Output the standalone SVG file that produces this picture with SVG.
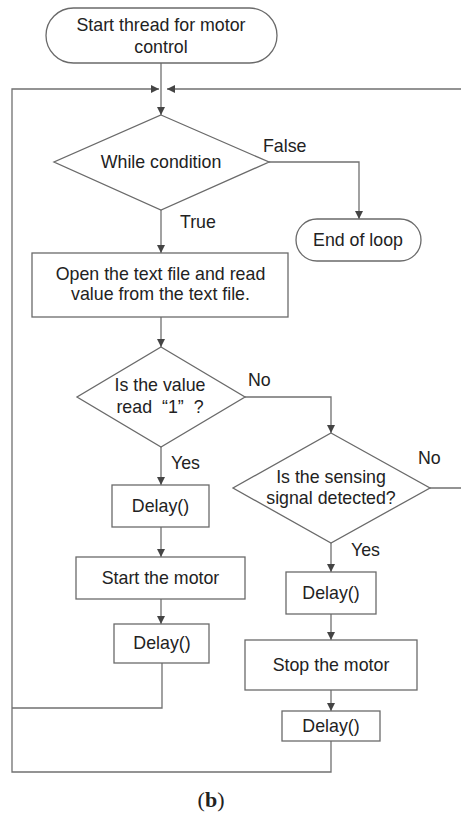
<svg xmlns="http://www.w3.org/2000/svg" width="461" height="815" viewBox="0 0 461 815">
  <style>
    .shape { fill: #fff; stroke: #6a6a6a; stroke-width: 1.3; }
    .wire { fill: none; stroke: #707070; stroke-width: 1.3; }
    .arr { marker-end: url(#head); }
    text { font-family: "Liberation Sans", Arial, sans-serif; font-size: 17.8px; fill: #222; }
    .c { text-anchor: middle; }
  </style>
  <defs>
    <marker id="head" viewBox="0 0 10 10" refX="10" refY="5" markerWidth="8" markerHeight="8" markerUnits="userSpaceOnUse" orient="auto">
      <path d="M0,0 L10,5 L0,10 Z" fill="#444"/>
    </marker>
  </defs>

  <!-- connectors -->
  <g id="connectors">
    <path class="wire arr" d="M161,63 V115"/>
    <path class="wire arr" d="M12,708 V89 H159"/>
    <path class="wire arr" d="M430,488 H470 V89 H167"/>
    <path class="wire arr" d="M269,162 H359 V219"/>
    <path class="wire arr" d="M161,210 V253"/>
    <path class="wire arr" d="M161,317 V347"/>
    <path class="wire arr" d="M245,397 H331 V433"/>
    <path class="wire arr" d="M161,447 V485"/>
    <path class="wire arr" d="M161,527 V557"/>
    <path class="wire arr" d="M161,599 V624"/>
    <path class="wire" d="M162,663 V708 H12"/>
    <path class="wire arr" d="M331,543 V572"/>
    <path class="wire arr" d="M331,614 V640"/>
    <path class="wire arr" d="M331,690 V711"/>
    <path class="wire" d="M331,741 V772 H12 V708"/>
    <text x="263" y="152">False</text>
    <text x="180" y="228">True</text>
    <text x="248" y="386">No</text>
    <text x="418" y="464">No</text>
    <text x="171" y="469">Yes</text>
    <text x="351" y="556">Yes</text>
  </g>

  <g id="start">
    <rect class="shape" x="46" y="8" width="231" height="55" rx="27.5" ry="27.5"/>
    <text class="c" x="161" y="31">Start thread for motor</text>
    <text class="c" x="161" y="53">control</text>
  </g>

  <g id="while">
    <polygon class="shape" points="161,115 269,162 161,210 54,162"/>
    <text class="c" x="161" y="168">While condition</text>
  </g>

  <g id="end">
    <rect class="shape" x="296" y="219" width="125" height="42" rx="21" ry="21"/>
    <text class="c" x="358" y="246">End of loop</text>
  </g>

  <g id="read-file">
    <rect class="shape" x="32" y="253" width="256" height="64"/>
    <text class="c" x="160.5" y="280">Open the text file and read</text>
    <text class="c" x="160.5" y="300">value from the text file.</text>
  </g>

  <g id="check-value">
    <polygon class="shape" points="161,347 245,397 161,447 77,397"/>
    <text class="c" x="160" y="391">Is the value</text>
    <text class="c" x="160" y="413">read <tspan dx="5">“1”</tspan> <tspan dx="5">?</tspan></text>
  </g>

  <g id="check-sensor">
    <polygon class="shape" points="331,433 430,488 331,543 233,488"/>
    <text class="c" x="331" y="483">Is the sensing</text>
    <text class="c" x="331" y="504">signal detected?</text>
  </g>

  <g id="delay-1">
    <rect class="shape" x="112" y="485" width="97" height="42"/>
    <text class="c" x="160.5" y="512">Delay()</text>
  </g>

  <g id="start-motor">
    <rect class="shape" x="76" y="557" width="169" height="42"/>
    <text class="c" x="160.5" y="584">Start the motor</text>
  </g>

  <g id="delay-2">
    <rect class="shape" x="114" y="624" width="95" height="39"/>
    <text class="c" x="162" y="649">Delay()</text>
  </g>

  <g id="delay-3">
    <rect class="shape" x="286" y="572" width="90" height="42"/>
    <text class="c" x="331" y="599">Delay()</text>
  </g>

  <g id="stop-motor">
    <rect class="shape" x="245" y="640" width="172" height="50"/>
    <text class="c" x="331" y="671">Stop the motor</text>
  </g>

  <g id="delay-4">
    <rect class="shape" x="282" y="711" width="98" height="30"/>
    <text class="c" x="331" y="732">Delay()</text>
  </g>

  <text class="c" x="211" y="807" style="font-family: 'Liberation Serif', serif; font-size: 22px;">(<tspan font-weight="bold">b</tspan>)</text>
</svg>
